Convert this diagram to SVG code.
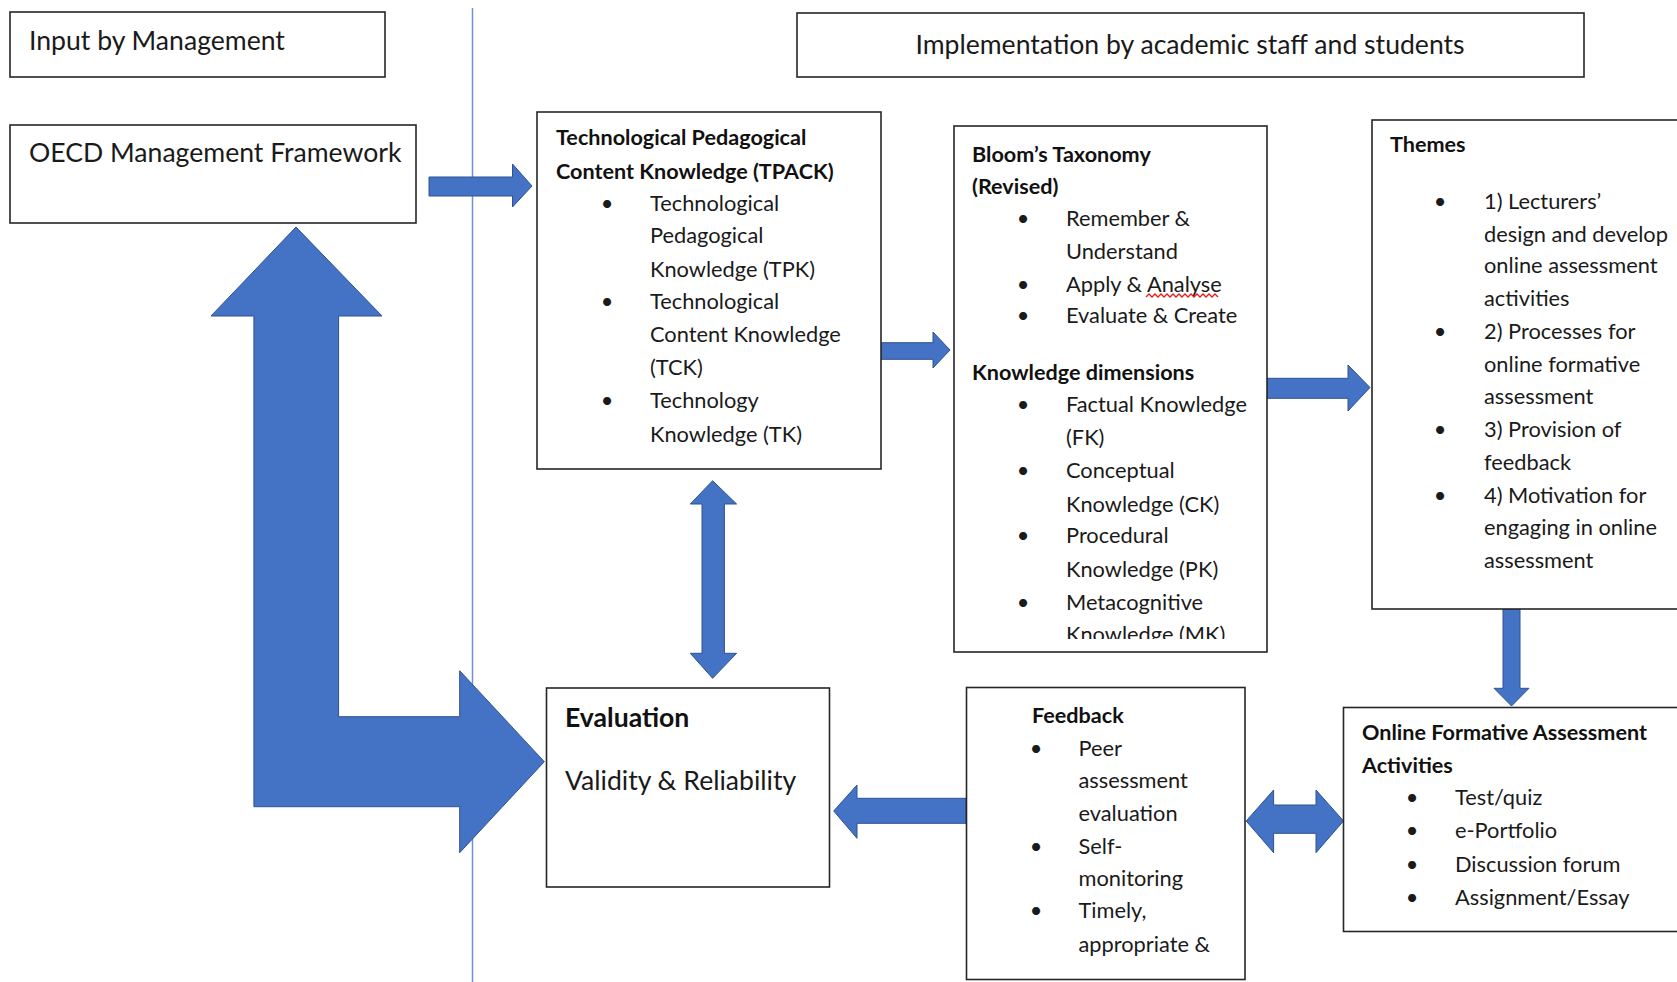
<svg xmlns="http://www.w3.org/2000/svg" width="1677" height="982" viewBox="0 0 1677 982">
<style>
.box{fill:#fff;stroke:#262626;stroke-width:1.6}
.arr{fill:#4472C4;stroke:#2F528F;stroke-width:1}
.t{font-family:Lato,"Liberation Sans",sans-serif;font-size:21.8px;fill:#1a1a1a}
.b{font-weight:bold;fill:#111;font-size:21.6px}
.lg{font-size:26.6px}
.bl{text-anchor:middle}
</style>
<defs>
<clipPath id="bloomClip"><rect x="954" y="126" width="314" height="513"/></clipPath>
</defs>
<rect width="1677" height="982" fill="#fff"/>
<line x1="472.5" y1="8" x2="472.5" y2="982" stroke="#6d92d8" stroke-width="1.5"/>

<g id="connectors">
<polygon class="arr" points="296,227 382,316 338.6,316 338.6,716.7 459.7,716.7 459.7,670.7 544.3,761.7 459.7,852.7 459.7,806.7 253.9,806.7 253.9,316 211,316"/>
<polygon class="arr" points="429,177 512.5,177 512.5,164 532,186 512.5,207 512.5,196 429,196"/>
<polygon class="arr" points="876,342.7 933,342.7 933,332 950,350 933,368 933,359.3 876,359.3"/>
<polygon class="arr" points="1267,378.3 1348,378.3 1348,365 1370,387.5 1348,411 1348,398.3 1267,398.3"/>
<polygon class="arr" points="1503,609 1520,609 1520,688.3 1529,688.3 1511.5,706 1494,688.3 1503,688.3"/>
<polygon class="arr" points="712.6,480.7 736.6,504 724.4,504 724.4,653.3 736.6,653.3 712.6,678.3 690.3,653.3 702,653.3 702,504 690.3,504"/>
<polygon class="arr" points="966,798.3 857,798.3 857,785 833.7,811 857,838.3 857,823.3 966,823.3"/>
<polygon class="arr" points="1246.2,821 1273.6,790 1273.6,805 1316,805 1316,790 1343.5,821 1316,852.7 1316,833.3 1273.6,833.3 1273.6,852.7"/>
</g>

<g id="input">
<rect class="box" x="10" y="12" width="375" height="65"/>
<text class="t lg" x="29" y="50">Input by Management</text>
</g>

<g id="oecd">
<rect class="box" x="10" y="125" width="406" height="98"/>
<text class="t lg" x="29" y="162">OECD Management Framework</text>
</g>

<g id="implementation">
<rect class="box" x="797" y="13" width="787" height="64"/>
<text class="t lg" x="1190" y="54" text-anchor="middle">Implementation by academic staff and students</text>
</g>

<g id="tpack">
<rect class="box" x="537" y="112" width="344" height="357"/>
<text class="t b" x="556" y="145">Technological Pedagogical</text>
<text class="t b" x="556" y="179">Content Knowledge (TPACK)</text>
<text class="t bl" x="607" y="211">•</text>
<text class="t bl" x="607" y="309">•</text>
<text class="t bl" x="607" y="408">•</text>
<text class="t" x="650" y="211">Technological</text>
<text class="t" x="650" y="243">Pedagogical</text>
<text class="t" x="650" y="277">Knowledge (TPK)</text>
<text class="t" x="650" y="309">Technological</text>
<text class="t" x="650" y="342">Content Knowledge</text>
<text class="t" x="650" y="375">(TCK)</text>
<text class="t" x="650" y="408">Technology</text>
<text class="t" x="650" y="442">Knowledge (TK)</text>
</g>

<g id="bloom">
<rect class="box" x="954" y="126" width="313" height="526"/>
<g clip-path="url(#bloomClip)">
<text class="t b" x="972" y="162">Bloom’s Taxonomy</text>
<text class="t b" x="972" y="194">(Revised)</text>
<text class="t bl" x="1023" y="226">•</text>
<text class="t bl" x="1023" y="292">•</text>
<text class="t bl" x="1023" y="323">•</text>
<text class="t" x="1066" y="226">Remember &amp;</text>
<text class="t" x="1066" y="259">Understand</text>
<text class="t" x="1066" y="292">Apply &amp; Analyse</text>
<text class="t" x="1066" y="323">Evaluate &amp; Create</text>
<text class="t b" x="972" y="380">Knowledge dimensions</text>
<text class="t bl" x="1023" y="412">•</text>
<text class="t bl" x="1023" y="478">•</text>
<text class="t bl" x="1023" y="543">•</text>
<text class="t bl" x="1023" y="610">•</text>
<text class="t" x="1066" y="412">Factual Knowledge</text>
<text class="t" x="1066" y="445">(FK)</text>
<text class="t" x="1066" y="478">Conceptual</text>
<text class="t" x="1066" y="512">Knowledge (CK)</text>
<text class="t" x="1066" y="543">Procedural</text>
<text class="t" x="1066" y="577">Knowledge (PK)</text>
<text class="t" x="1066" y="610">Metacognitive</text>
<text class="t" x="1066" y="642">Knowledge (MK)</text>
</g>
<path d="M1146,297 l3,-3 l3,3 l3,-3 l3,3 l3,-3 l3,3 l3,-3 l3,3 l3,-3 l3,3 l3,-3 l3,3 l3,-3 l3,3 l3,-3 l3,3 l3,-3 l3,3 l3,-3 l3,3 l3,-3 l3,3 l3,-3 l3,3" fill="none" stroke="#e02020" stroke-width="1.4"/>
</g>

<g id="themes">
<rect class="box" x="1372" y="120" width="320" height="489"/>
<text class="t b" x="1390" y="152">Themes</text>
<text class="t bl" x="1440" y="209">•</text>
<text class="t bl" x="1440" y="339">•</text>
<text class="t bl" x="1440" y="437">•</text>
<text class="t bl" x="1440" y="503">•</text>
<text class="t" x="1484" y="209">1) Lecturers’</text>
<text class="t" x="1484" y="242">design and develop</text>
<text class="t" x="1484" y="273">online assessment</text>
<text class="t" x="1484" y="306">activities</text>
<text class="t" x="1484" y="339">2) Processes for</text>
<text class="t" x="1484" y="372">online formative</text>
<text class="t" x="1484" y="404">assessment</text>
<text class="t" x="1484" y="437">3) Provision of</text>
<text class="t" x="1484" y="470">feedback</text>
<text class="t" x="1484" y="503">4) Motivation for</text>
<text class="t" x="1484" y="535">engaging in online</text>
<text class="t" x="1484" y="568">assessment</text>
</g>

<g id="evaluation">
<rect class="box" x="546.5" y="688" width="283" height="199"/>
<text class="t b lg" x="565" y="727">Evaluation</text>
<text class="t lg" x="565" y="790">Validity &amp; Reliability</text>
</g>

<g id="feedback">
<rect class="box" x="966.5" y="687.5" width="278.5" height="292"/>
<text class="t b" x="1032" y="723">Feedback</text>
<text class="t bl" x="1036" y="756">•</text>
<text class="t bl" x="1036" y="854">•</text>
<text class="t bl" x="1036" y="918">•</text>
<text class="t" x="1078.5" y="756">Peer</text>
<text class="t" x="1078.5" y="788">assessment</text>
<text class="t" x="1078.5" y="821">evaluation</text>
<text class="t" x="1078.5" y="854">Self-</text>
<text class="t" x="1078.5" y="886">monitoring</text>
<text class="t" x="1078.5" y="918">Timely,</text>
<text class="t" x="1078.5" y="952">appropriate &amp;</text>
</g>

<g id="online-formative">
<rect class="box" x="1343.5" y="707.5" width="350" height="224"/>
<text class="t b" x="1362" y="740">Online Formative Assessment</text>
<text class="t b" x="1362" y="773">Activities</text>
<text class="t bl" x="1412" y="805">•</text>
<text class="t bl" x="1412" y="838">•</text>
<text class="t bl" x="1412" y="872">•</text>
<text class="t bl" x="1412" y="905">•</text>
<text class="t" x="1455" y="805">Test/quiz</text>
<text class="t" x="1455" y="838">e-Portfolio</text>
<text class="t" x="1455" y="872">Discussion forum</text>
<text class="t" x="1455" y="905">Assignment/Essay</text>
</g>
</svg>
